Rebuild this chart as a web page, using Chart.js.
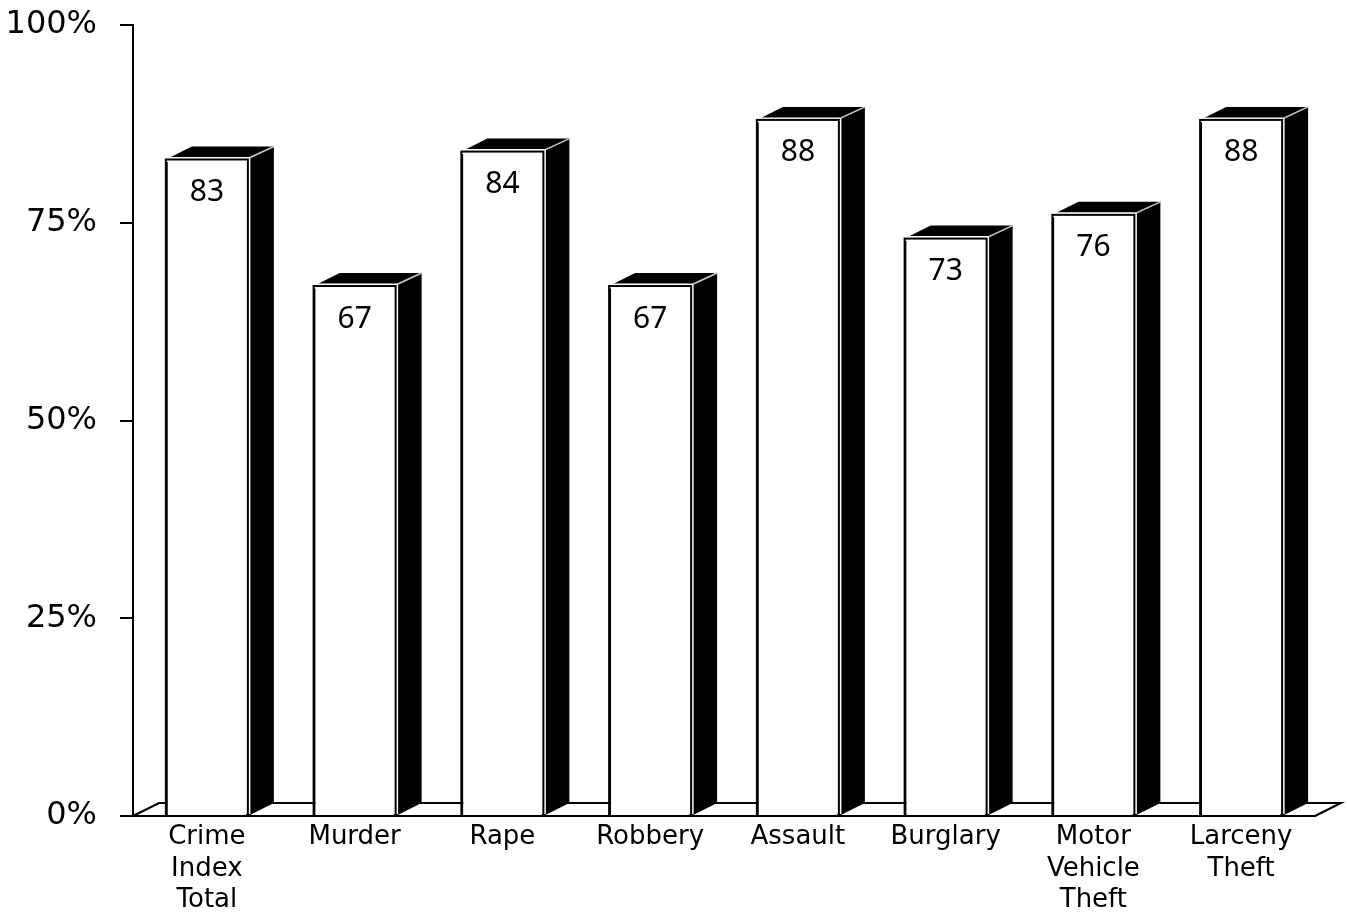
<!DOCTYPE html>
<html>
<head>
<meta charset="utf-8">
<script src="https://cdn.jsdelivr.net/npm/chart.js@4.4.1/dist/chart.umd.min.js"></script>
<style>
html,body{margin:0;padding:0;background:#fff;}
#wrap{width:1347px;height:915px;}
</style>
</head>
<body>
<div id="wrap"><canvas id="c" width="1347" height="915"></canvas></div>
<script>
const categories = [["Crime","Index","Total"],"Murder","Rape","Robbery","Assault","Burglary",["Motor","Vehicle","Theft"],["Larceny","Theft"]];
const values = [83, 67, 84, 67, 88, 73, 76, 88];
const yTickValues = [0, 25, 50, 75, 100];

const DX = 26, DY = 13;

const box3d = {
  id: 'box3d',
  beforeDatasetsDraw(chart) {
    const {ctx, chartArea} = chart;
    const y = chart.scales.y;
    const base = y.getPixelForValue(0);
    ctx.save();
    ctx.strokeStyle = '#000';
    ctx.lineWidth = 2;
    ctx.beginPath();
    ctx.moveTo(chartArea.left, base);
    ctx.lineTo(chartArea.left + DX, base - DY);
    ctx.lineTo(chartArea.right + DX, base - DY);
    ctx.lineTo(chartArea.right, base);
    ctx.stroke();
    ctx.restore();
  },
  afterDatasetsDraw(chart) {
    const {ctx} = chart;
    const meta = chart.getDatasetMeta(0);
    const base = chart.scales.y.getPixelForValue(0);
    ctx.save();
    meta.data.forEach(bar => {
      const p = bar.getProps(['x','y','width'], true);
      const l = p.x - p.width / 2, r = p.x + p.width / 2, t = p.y;
      ctx.fillStyle = '#000';
      ctx.beginPath();
      ctx.moveTo(l, t);
      ctx.lineTo(l + DX, t - DY);
      ctx.lineTo(r + DX, t - DY);
      ctx.lineTo(r, t);
      ctx.closePath();
      ctx.fill();
      ctx.beginPath();
      ctx.moveTo(r, t);
      ctx.lineTo(r + DX, t - DY);
      ctx.lineTo(r + DX, base - DY);
      ctx.lineTo(r, base);
      ctx.closePath();
      ctx.fill();
      // light gap between front face and black faces
      ctx.strokeStyle = '#fff';
      ctx.lineWidth = 5;
      ctx.beginPath();
      ctx.moveTo(l - 1, t);
      ctx.lineTo(r, t);
      ctx.lineTo(r, base - 2);
      ctx.stroke();
      ctx.strokeStyle = '#c8c8c8';
      ctx.lineWidth = 1.5;
      ctx.beginPath();
      ctx.moveTo(r + 2, t - 2);
      ctx.lineTo(r + DX, t - DY);
      ctx.stroke();
      ctx.strokeStyle = '#000';
      ctx.lineWidth = 2;
      ctx.strokeRect(l, t, r - l, base - t);
    });
    ctx.fillStyle = '#000';
    ctx.font = '30px "Noto Sans"';
    ctx.textAlign = 'center';
    ctx.textBaseline = 'middle';
    meta.data.forEach((bar, i) => {
      const p = bar.getProps(['x','y'], true);
      ctx.fillText(String(values[i]), p.x, p.y + 33);
    });
    ctx.restore();
  }
};

new Chart(document.getElementById('c'), {
  type: 'bar',
  data: {
    labels: categories,
    datasets: [{
      data: values,
      backgroundColor: '#fff',
      borderColor: '#000',
      borderWidth: 2,
      categoryPercentage: 1,
      barPercentage: 0.555
    }]
  },
  options: {
    responsive: false,
    animation: false,
    devicePixelRatio: 1,
    layout: { padding: { top: 25, right: 32, left: 0, bottom: 0 } },
    plugins: { legend: { display: false }, tooltip: { enabled: false } },
    scales: {
      x: {
        grid: { display: false, drawTicks: false },
        border: { display: true, color: '#000', width: 2 },
        ticks: {
          color: '#000',
          padding: 6,
          maxRotation: 0,
          autoSkip: false,
          font: { family: '"DejaVu Sans"', size: 26, lineHeight: 1.2 }
        },
        afterFit(s) { s.height = 99; s.paddingLeft = 0; s.paddingRight = 0; }
      },
      y: {
        min: 0, max: 100,
        afterBuildTicks(s) { s.ticks = yTickValues.map(v => ({ value: v })); },
        grid: { display: true, drawOnChartArea: false, drawTicks: true, tickLength: 13, color: '#000', lineWidth: 2 },
        border: { display: true, color: '#000', width: 2 },
        ticks: {
          color: '#000',
          padding: 23,
          font: { family: '"DejaVu Sans"', size: 32 },
          callback: v => v + '%'
        },
        afterFit(s) { s.width = 133; s.paddingTop = 0; s.paddingBottom = 0; }
      }
    }
  },
  plugins: [box3d]
});
</script>
</body>
</html>
